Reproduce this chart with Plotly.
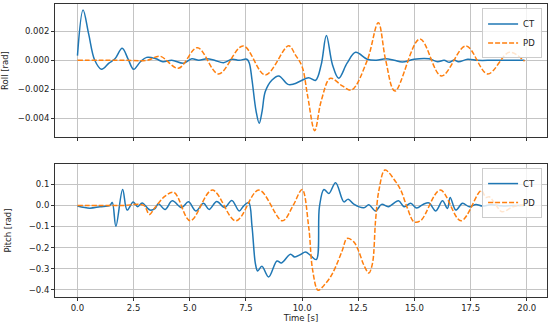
import plotly.graph_objects as go

# ---- data ----
roll_ct_t = [0, 0.25, 0.5, 0.77, 1.07, 1.4, 1.67, 1.99, 2.25, 2.5, 2.8, 3.08, 3.5, 3.8, 4.2,
             4.72, 5.09, 5.4, 5.76, 6.1, 6.5, 6.88, 7.2, 7.54, 7.65, 7.77, 7.95, 8.09, 8.22,
             8.36, 8.66, 8.96, 9.37, 9.62, 9.93, 10.29, 10.6, 10.85, 11.08, 11.35, 11.63,
             12.0, 12.38, 12.9, 13.3, 13.72, 14.1, 14.46, 14.98, 15.65, 16.03, 16.32, 16.55,
             16.77, 16.96, 17.37, 17.8, 18.5, 19.2, 19.9]
roll_ct = [0.00032, 0.00347, 0.0018, 0.0, -0.00062, -0.0002, 0.0001, 0.00083, 0.0001, -0.00062,
           -0.0001, 0.0002, 0.0001, -0.0001, 0.0, -0.0002, 0.0001, 0.0, 0.0001, 0.0, -0.00017,
           0.00007, 0.0, 0.00007, -0.0002, -0.00136, -0.0035, -0.00434, -0.0035, -0.00216,
           -0.00136, -0.00108, -0.00166, -0.00164, -0.00143, -0.0012, -0.00138, -0.0003, 0.0017,
           -0.0003, -0.00124, -0.0002, 0.00055, 0.00007, 0.0, 0.0001, 0.0, -0.00012, 0.00007,
           0.0001, -0.0001, 0.0, -0.00014, 0.00002, -0.0001, 0.00007, 0.0, 0.0, 0.0, 0.0]

roll_pd_t = [0, 1, 2, 3.1, 3.67, 4.49, 5.34, 6.28, 7.37, 8.36, 9.4, 9.7, 10.0, 10.25, 10.56,
             10.85, 11.26, 11.79, 12.2, 12.9, 13.39, 13.72, 14.13, 15.24, 16.2, 17.29, 18.26,
             19.22, 19.9]
roll_pd = [0.0, 0.0, 0.0, 0.0, 0.00028, -0.00055, 0.00087, -0.00094, 0.00099, -0.00101, 0.001,
           0.00037, -0.00044, -0.0025, -0.00485, -0.0028, -0.00124, -0.00177, -0.00205, 0.0,
           0.00259, 0.0, -0.00212, 0.00147, -0.00108, 0.00099, -0.00094, 0.00055, -0.00007]

pitch_ct_t = [0, 0.55, 1.0, 1.44, 1.55, 1.71, 2.01, 2.21, 2.48, 2.68, 2.88, 3.23, 3.45, 3.6,
              3.9, 4.22, 4.64, 4.94, 5.27, 5.61, 5.86, 6.2, 6.55, 6.87, 7.2, 7.39, 7.62, 7.77,
              7.92, 8.02, 8.21, 8.51, 8.88, 9.08, 9.48, 9.67, 9.93, 10.15, 10.37, 10.63, 10.77,
              10.97, 11.19, 11.49, 11.86, 12.05, 12.3, 12.75, 12.97, 13.27, 13.54, 13.84, 14.29,
              14.54, 14.83, 15.1, 15.4, 15.65, 15.95, 16.25, 16.47, 16.59, 16.84, 17.14, 17.44,
              17.74, 18.03, 18.4, 18.9, 19.4, 19.9]
pitch_ct = [-0.003, -0.013, -0.006, 0.0, 0.014, -0.099, 0.076, -0.022, 0.016, -0.006, 0.012,
            -0.022, -0.015, 0.008, -0.019, 0.022, -0.01, 0.017, -0.026, 0.01, -0.019, 0.019,
            -0.01, 0.024, -0.026, -0.003, 0.014, -0.1, -0.276, -0.311, -0.289, -0.34, -0.264,
            -0.273, -0.232, -0.245, -0.233, -0.221, -0.237, -0.257, -0.007, 0.076, 0.057, 0.108,
            0.017, 0.03, 0.006, -0.011, 0.003, -0.026, 0.005, -0.006, 0.022, -0.006, 0.01,
            -0.012, 0.006, 0.012, -0.026, 0.022, -0.014, 0.038, -0.022, 0.01, -0.006, 0.005,
            -0.003, 0.003, -0.002, 0.0, 0.0]

pitch_pd_t = [0, 1, 2, 2.95, 3.2, 3.45, 3.9, 4.3, 5.02, 6.0, 7.05, 8.07, 9.12, 9.6, 10.0,
              10.29, 10.47, 10.71, 10.97, 11.26, 11.49, 11.79, 12.0, 12.3, 12.53, 12.75, 12.97,
              13.13, 13.27, 13.42, 13.69, 14.17, 14.39, 14.69, 14.98, 15.28, 16.15, 17.07,
              17.97, 18.18, 18.33, 18.63, 18.9, 19.38, 19.67, 19.9]
pitch_pd = [0.0, 0.0, 0.0, 0.0, -0.043, -0.01, 0.044, 0.062, -0.073, 0.073, -0.073, 0.073,
            -0.073, 0.0, 0.076, -0.1, -0.308, -0.403, -0.38, -0.34, -0.292, -0.213, -0.157,
            -0.173, -0.221, -0.284, -0.321, -0.276, -0.07, 0.073, 0.168, 0.112, 0.073, -0.014,
            -0.078, -0.072, 0.073, -0.073, 0.07, 0.038, 0.041, 0.001, -0.03, -0.006, 0.0, 0.0]

x_ticks = [0, 2.5, 5, 7.5, 10, 12.5, 15, 17.5, 20]
roll_ticks = [-0.004, -0.002, 0.0, 0.002]
pitch_ticks = [-0.4, -0.3, -0.2, -0.1, 0.0, 0.1]

BLUE = "#1f77b4"
ORANGE = "#ff7f0e"
DASH = "5px,2px"
FONT = dict(family="DejaVu Sans", size=8.5, color="#222222")

fig = go.Figure()
fig.add_trace(go.Scatter(x=roll_ct_t, y=roll_ct, name="CT", mode="lines",
                         line=dict(color=BLUE, width=1.5, shape="spline", smoothing=1.0),
                         xaxis="x", yaxis="y", legend="legend"))
fig.add_trace(go.Scatter(x=roll_pd_t, y=roll_pd, name="PD", mode="lines",
                         line=dict(color=ORANGE, width=1.5, dash=DASH, shape="spline", smoothing=1.0),
                         xaxis="x", yaxis="y", legend="legend"))
fig.add_trace(go.Scatter(x=pitch_ct_t, y=pitch_ct, name="CT", mode="lines",
                         line=dict(color=BLUE, width=1.5, shape="spline", smoothing=1.0),
                         xaxis="x2", yaxis="y2", legend="legend2"))
fig.add_trace(go.Scatter(x=pitch_pd_t, y=pitch_pd, name="PD", mode="lines",
                         line=dict(color=ORANGE, width=1.5, dash=DASH, shape="spline", smoothing=1.0),
                         xaxis="x2", yaxis="y2", legend="legend2"))

axis_common = dict(showgrid=True, gridcolor="#c4c4c4", gridwidth=1, zeroline=False,
                   showline=True, linecolor="#333333", linewidth=1, mirror=True,
                   ticks="outside", ticklen=3, tickcolor="#333333", tickfont=FONT,
                   automargin=False)

legend_common = dict(xref="paper", yref="paper", xanchor="right", yanchor="top",
                     bgcolor="rgba(255,255,255,0.8)", bordercolor="#cccccc", borderwidth=1,
                     font=FONT, itemwidth=30, tracegroupgap=0, orientation="v")

fig.update_layout(
    width=550, height=328,
    margin=dict(l=55, r=3, t=4, b=31, autoexpand=False),
    paper_bgcolor="white", plot_bgcolor="white",
    font=FONT,
    xaxis=dict(domain=[0, 1], anchor="y", range=[-1, 20.9], tickvals=x_ticks,
               showticklabels=False, matches="x2", **axis_common),
    yaxis=dict(domain=[0.546, 1], anchor="x", range=[-0.00529, 0.00388], tickvals=roll_ticks,
               tickformat=".3f", title=dict(text="Roll [rad]", font=FONT), **axis_common),
    xaxis2=dict(domain=[0, 1], anchor="y2", range=[-1, 20.9], tickvals=x_ticks,
                tickformat=".1f", title=dict(text="Time [s]", font=FONT, standoff=2), **axis_common),
    yaxis2=dict(domain=[0, 0.454], anchor="x2", range=[-0.435, 0.197], tickvals=pitch_ticks,
                tickformat=".1f", title=dict(text="Pitch [rad]", font=FONT), **axis_common),
    legend=dict(x=0.99, y=0.985, **legend_common),
    legend2=dict(x=0.99, y=0.44, **legend_common),
    showlegend=True,
)

fig.write_html(
    "out.html",
    config={"displayModeBar": False},
    post_script="document.body.style.margin='0px';document.body.style.overflow='hidden';",
)
